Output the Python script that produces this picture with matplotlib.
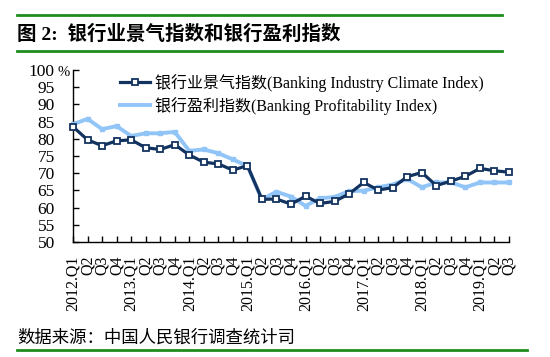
import matplotlib
matplotlib.use("Agg")
import matplotlib.pyplot as plt
from matplotlib.lines import Line2D

plt.rcParams['font.family'] = ['Liberation Serif', 'Noto Sans CJK SC']

# quarterly values, 2012.Q1 .. 2019.Q3
climate = [83.5, 79.7, 78.0, 79.4, 79.7, 77.4, 76.9, 78.3, 75.3, 73.2,
           72.7, 70.9, 72.2, 62.4, 62.5, 61.0, 63.3, 61.2, 61.8, 64.0,
           67.3, 65.1, 65.8, 69.0, 70.2, 66.4, 67.7, 69.1, 71.4, 70.7, 70.3]
profit = [84.2, 85.8, 82.8, 83.7, 80.8, 81.6, 81.6, 82.0, 76.5, 76.9,
          75.8, 74.0, 72.1, 62.4, 64.6, 63.2, 60.5, 62.7, 63.1, 64.8,
          64.9, 65.9, 66.7, 68.3, 65.9, 67.3, 67.3, 65.9, 67.3, 67.3, 67.3]
labels = []
for i in range(len(climate)):
    year = 2012 + i // 4
    q = i % 4 + 1
    labels.append(f"{year}.Q{q}" if q == 1 else f"Q{q}")
yticks = list(range(50, 101, 5))

name_climate = "银行业景气指数(Banking Industry Climate Index)"
name_profit = "银行盈利指数(Banking Profitability Index)"

dark = '#12335f'
light = '#92c5f7'
green = '#1e8c1e'

fig = plt.figure(figsize=(5.5, 3.57), dpi=100)
ax = fig.add_axes([73/550, 1-242/357, (509-73)/550, (242-70)/357])

x = list(range(len(climate)))
ax.plot(x, profit, color=light, lw=2.8, marker='s', ms=3.5, mec=light, mfc=light,
        clip_on=False, zorder=3)
ax.plot(x, climate, color=dark, lw=2.3, marker='s', ms=5, mec=dark, mfc='white',
        mew=1.3, clip_on=False, zorder=4)

ax.set_xlim(0, len(climate) - 1)
ax.set_ylim(50, 100)
ax.set_yticks(yticks)
ax.set_yticklabels([str(v) for v in yticks], fontsize=12.5)
ax.set_xticks(x)
ax.set_xticklabels(labels, rotation=90, fontsize=11.5)
ax.tick_params(axis='y', direction='in', length=4, width=1, pad=13)
ax.tick_params(axis='x', direction='in', length=4, width=1, pad=10)
for s in ['top', 'right']:
    ax.spines[s].set_visible(False)
for s in ['left', 'bottom']:
    ax.spines[s].set_linewidth(1)
fig.text(58/550, 1-72/357, "%", fontsize=10.5, va='center', ha='left')

handles = [Line2D([], [], color=dark, lw=2.3, marker='s', ms=5, mfc='white', mec=dark, mew=1.3),
           Line2D([], [], color=light, lw=2.8)]
ax.legend(handles, [name_climate, name_profit], loc='upper left',
          bbox_to_anchor=(120/550, 1-74/357), bbox_transform=fig.transFigure,
          frameon=False, fontsize=11.5, handlelength=1.9, handletextpad=0.3,
          borderpad=0, borderaxespad=0, labelspacing=0.3)

# title block with green rules
fig.add_artist(Line2D([17/550, 502/550], [1-15/357, 1-15/357], color=green, lw=2))
fig.add_artist(Line2D([17/550, 502/550], [1-51/357, 1-51/357], color=green, lw=2))
fig.text(17/550, 1-34/357, "图 2:  银行业景气指数和银行盈利指数", fontsize=14,
         fontweight='bold', va='center', ha='left')
fig.text(17/550, 1-338/357, "数据来源：中国人民银行调查统计司", fontsize=12.5,
         va='center', ha='left')
fig.add_artist(Line2D([17/550, 527/550], [1-350/357, 1-350/357], color=green, lw=2))

fig.savefig("out.png", dpi=100)
